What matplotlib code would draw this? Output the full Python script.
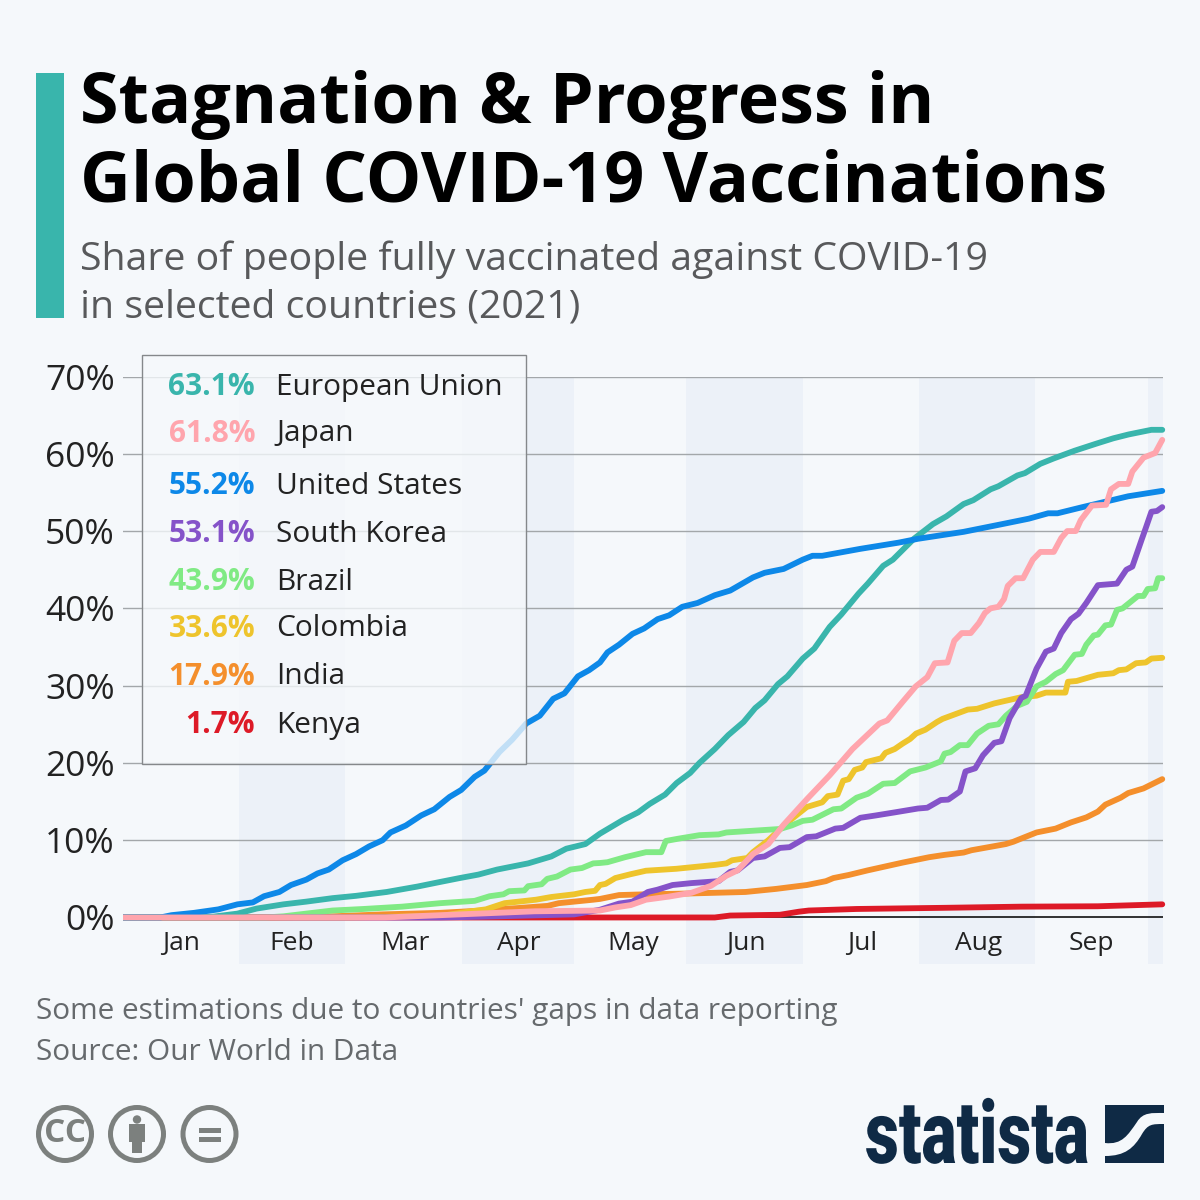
import matplotlib
matplotlib.use('Agg')
import matplotlib.pyplot as plt
import matplotlib.patheffects as pe
from matplotlib.patches import Rectangle, Circle, PathPatch, Polygon
from matplotlib.path import Path
from matplotlib.transforms import Affine2D

plt.rcParams['font.family'] = ['Open Sans', 'DejaVu Sans']

# 날짜 = day of 2021, value = share of people fully vaccinated (%)
us_days = [0, 10, 13, 19, 25.5, 30.6, 34.7, 37.7, 41.8, 44.9, 49, 52, 55, 58.7, 62.3, 65.8, 69.4, 71.5, 75.6, 79.7, 83.2, 87.3, 90.4, 94, 96.6, 100.6, 104, 107.8, 111.4, 115, 118, 121.6, 124.6, 127.5, 129.5, 132.6, 136.2, 139.3, 142.9, 146, 149.5, 153.6, 158.2, 162.3, 168.4, 171.5, 176.6, 181.7, 184.3, 186.9, 197.1, 207.3, 212.5, 224.7, 235, 242.1, 247.3, 249.8, 256.5, 268.7, 277.8]
us_vals = [0, 0, 0.3, 0.6, 1.05, 1.7, 1.95, 2.75, 3.3, 4.2, 4.9, 5.7, 6.2, 7.4, 8.2, 9.2, 10, 11, 11.9, 13.2, 14, 15.6, 16.5, 18.2, 19, 21.4, 23, 25.1, 26.1, 28.3, 29, 31.2, 32, 33, 34.3, 35.3, 36.7, 37.4, 38.6, 39.1, 40.2, 40.7, 41.7, 42.3, 44, 44.6, 45.1, 46.3, 46.8, 46.8, 47.7, 48.5, 49, 49.9, 50.9, 51.6, 52.3, 52.3, 53.1, 54.5, 55.2]

eu_days = [0, 24, 30.6, 35.7, 42.9, 49, 56, 62.3, 70.5, 78.7, 84.8, 90, 95, 100, 108.3, 114.5, 118.5, 123.6, 127.5, 133.6, 137.7, 140.8, 144.9, 148, 151.6, 154.1, 158.2, 161.8, 165.9, 169, 171.5, 175.1, 177.6, 181.7, 184.8, 188.9, 192, 196.6, 199.1, 203.2, 205.8, 211.4, 216.5, 220.1, 224.7, 227.3, 231.9, 234, 239.1, 241.1, 245.2, 248.8, 254.4, 260.1, 264.7, 268.8, 274.9, 277.8]
eu_vals = [0, 0.1, 0.5, 1.15, 1.7, 2.05, 2.5, 2.8, 3.3, 4, 4.6, 5.1, 5.55, 6.2, 7, 7.9, 8.9, 9.5, 10.85, 12.6, 13.6, 14.7, 15.9, 17.4, 18.7, 20, 21.8, 23.6, 25.3, 27.1, 28.1, 30.2, 31.2, 33.5, 34.8, 37.6, 39.2, 41.9, 43.2, 45.5, 46.3, 49, 50.9, 51.9, 53.5, 54, 55.4, 55.8, 57.2, 57.5, 58.7, 59.4, 60.4, 61.3, 62, 62.5, 63.1, 63.1]

japan_days = [0, 70, 90, 110, 127.5, 131.6, 135.7, 139.8, 145.9, 152, 157.2, 161.3, 164.3, 168.4, 172.5, 176.6, 182.8, 188.9, 195, 202.2, 204.3, 208.4, 211.9, 215, 217, 220.4, 222.2, 224.2, 226.6, 228.8, 230.4, 231.9, 234, 235.5, 236.5, 238.6, 240.6, 243.2, 245.2, 248.8, 250.8, 252.4, 254.7, 256, 259, 262.8, 264.1, 266.2, 268.7, 269.8, 272.8, 275.9, 277.8]
japan_vals = [0, 0, 0.4, 0.8, 0.9, 1.3, 1.6, 2.3, 2.7, 3.2, 4.1, 5.4, 6.1, 8.2, 9.5, 12, 15.3, 18.4, 21.8, 25.1, 25.5, 27.9, 29.9, 31.1, 32.9, 33, 35.8, 36.8, 36.8, 38.1, 39.4, 40, 40.2, 41.2, 42.9, 43.9, 43.9, 46.3, 47.3, 47.3, 49.1, 50, 50, 51.4, 53.3, 53.4, 55.4, 56.1, 56.1, 57.7, 59.5, 60.1, 61.8]

korea_days = [0, 85, 96, 120.6, 127.5, 132.6, 136.2, 140.3, 142.9, 146.9, 152, 159.2, 162.3, 164.3, 168.4, 171.5, 175.6, 178.2, 182.8, 185.3, 190.4, 192.5, 197.1, 201.2, 206.3, 212.5, 215, 218.6, 220.6, 223.7, 225.2, 227.8, 229.9, 232.9, 234.8, 237, 240.1, 241.3, 244.2, 246.7, 248.8, 250.8, 253.4, 255.4, 257.5, 260.6, 265.7, 268.2, 269.8, 272.3, 273.4, 274.9, 276.4, 277.8]
korea_vals = [0, 0, 0.1, 0.4, 1, 1.8, 2.05, 3.3, 3.6, 4.2, 4.45, 4.7, 5.9, 6.1, 7.7, 7.9, 9, 9.1, 10.4, 10.5, 11.5, 11.6, 12.9, 13.2, 13.6, 14.1, 14.2, 15.2, 15.25, 16.3, 18.9, 19.3, 21, 22.6, 22.8, 25.8, 28.4, 28.7, 32.2, 34.4, 34.8, 36.8, 38.6, 39.3, 40.7, 43, 43.2, 45, 45.4, 48.9, 50.4, 52.5, 52.6, 53.1]

brazil_days = [0, 38, 42.9, 49, 56, 64.3, 74.6, 84.8, 94, 98, 101.7, 103.2, 107.3, 108.3, 111.9, 113.4, 116, 119.6, 122.7, 125.7, 127.5, 129.5, 134.2, 139.8, 143.9, 145.1, 148.5, 154.1, 159.2, 161.3, 175.6, 178.7, 181.7, 184.3, 189.9, 192, 196.1, 199.1, 203.2, 206.3, 210.4, 214.5, 218.6, 219.6, 221.2, 223.7, 225.8, 228.3, 231.4, 234, 236, 239.1, 241.6, 244.2, 246.7, 249.3, 251.3, 254.4, 256.3, 257.5, 259.5, 260.6, 262.6, 264.1, 265.7, 267.2, 271.3, 272.8, 273.9, 275.9, 276.7, 277.8]
brazil_vals = [0, 0, 0.15, 0.5, 0.9, 1.1, 1.4, 1.85, 2.15, 2.75, 3, 3.4, 3.5, 4.05, 4.3, 5, 5.3, 6.2, 6.4, 7, 7.05, 7.15, 7.8, 8.45, 8.45, 9.9, 10.2, 10.65, 10.75, 11, 11.45, 11.9, 12.5, 12.65, 14, 14.1, 15.5, 16, 17.3, 17.4, 18.9, 19.4, 20.2, 21.2, 21.4, 22.3, 22.3, 23.8, 24.8, 25, 26.1, 27.4, 27.9, 29.9, 30.5, 31.5, 32, 34, 34.1, 35.3, 36.5, 36.6, 37.8, 37.9, 39.8, 40, 41.6, 41.6, 42.5, 42.6, 43.9, 43.9]

colombia_days = [0, 60, 85, 93, 97, 102, 110.4, 114.5, 120.6, 123.6, 126.2, 127.5, 129, 131.6, 135.7, 139.8, 147.9, 158.2, 161.3, 162.8, 166.9, 168.4, 172.5, 177.6, 182.8, 186.9, 188.4, 191, 192.5, 194, 195.6, 197.6, 198.6, 202.7, 203.8, 206.3, 208.4, 210.4, 212, 214.5, 217.6, 219.1, 225.8, 228.3, 232.9, 240.1, 244.2, 246.7, 251.9, 252.6, 254.9, 260.6, 264.7, 266.2, 268.2, 270.8, 273.4, 274.9, 277.8]
colombia_vals = [0, 0, 0.2, 0.8, 1.05, 1.85, 2.3, 2.65, 3, 3.3, 3.45, 4.2, 4.35, 5.1, 5.6, 6.05, 6.3, 6.8, 7, 7.4, 7.7, 8.45, 10, 12.3, 14.3, 14.9, 15.7, 15.9, 17.7, 17.9, 19.1, 19.4, 20.1, 20.6, 21.3, 21.8, 22.5, 23.1, 23.8, 24.3, 25.3, 25.7, 26.9, 27, 27.7, 28.5, 28.7, 29.1, 29.1, 30.5, 30.6, 31.4, 31.6, 32, 32.1, 32.9, 33, 33.5, 33.6]

india_days = [0, 40, 56, 69.4, 84.8, 96, 105, 113.5, 116.5, 120.6, 125.7, 127.5, 132.6, 139.8, 151, 166.4, 174.6, 182.8, 187.9, 189.9, 194, 199.1, 208.4, 215.5, 219.6, 224.7, 226.8, 236, 238, 241.6, 244.2, 249.3, 253.4, 257.5, 260.6, 262.6, 266.7, 268.7, 272.8, 277.8]
india_vals = [0, 0, 0.15, 0.4, 0.6, 0.9, 1.2, 1.5, 1.85, 2.05, 2.3, 2.4, 2.9, 3, 3.1, 3.3, 3.7, 4.2, 4.7, 5.1, 5.5, 6.1, 7.1, 7.8, 8.1, 8.4, 8.7, 9.5, 9.8, 10.5, 11, 11.5, 12.3, 12.95, 13.7, 14.6, 15.5, 16.1, 16.7, 17.9]

kenya_days = [0, 158.2, 162.3, 175.6, 180.7, 183.3, 196.1, 219.6, 240.1, 260.6, 277.8]
kenya_vals = [0, 0, 0.25, 0.35, 0.75, 0.9, 1.1, 1.25, 1.4, 1.45, 1.7]

months = ['Jan', 'Feb', 'Mar', 'Apr', 'May', 'Jun', 'Jul', 'Aug', 'Sep']
month_ticks = [15.5, 45.2, 75.4, 105.9, 136.4, 166.6, 197.6, 228.6, 258.8]
band_starts = [31, 90.6, 150.5, 212.8, 274]
band_ends = [59.3, 120.6, 181.8, 243.8, 278]
y_ticks = [0, 10, 20, 30, 40, 50, 60, 70]

legend_names = ['European Union', 'Japan', 'United States', 'South Korea', 'Brazil', 'Colombia', 'India', 'Kenya']
legend_vals = ['63.1%', '61.8%', '55.2%', '53.1%', '43.9%', '33.6%', '17.9%', '1.7%']
legend_y = [387, 434, 486, 534, 582, 629, 677, 725]

TEAL = '#39b5ac'
PINK = '#ffa5ad'
BLUE = '#0d88e8'
PURPLE = '#8553c9'
GREEN = '#80ea84'
YELLOW = '#eec42c'
ORANGE = '#f48f2c'
RED = '#dd1a27'
legend_colors = [TEAL, PINK, BLUE, PURPLE, GREEN, YELLOW, ORANGE, RED]
BG = '#f5f8fb'
NAVY = '#0f2a45'
ICON = '#7c807e'


# 로고 글자를 가로로 좁히는 path effect (글자는 텍스트로 유지)
class SqueezeX(pe.AbstractPathEffect):
    def __init__(self, x0, sx):
        super().__init__()
        self.x0 = x0
        self.sx = sx

    def draw_path(self, renderer, gc, tpath, affine, rgbFace=None):
        squeezed = affine + Affine2D().translate(-self.x0, 0).scale(self.sx, 1).translate(self.x0, 0)
        renderer.draw_path(gc, tpath, squeezed, rgbFace)


fig = plt.figure(figsize=(12, 12), dpi=100, facecolor=BG)

# 차트 영역: x 123~1163px, y 376.5~964px
ax = fig.add_axes([123 / 1200, 1 - 964 / 1200, 1040 / 1200, 587.5 / 1200], facecolor='none')
ax.set_xlim(0, 278)
ax.set_ylim(-6.02, 70)

for s, e in zip(band_starts, band_ends):
    ax.axvspan(s, e, color='#ecf1f8', lw=0, zorder=0)

for y in y_ticks[1:]:
    ax.axhline(y, color='#a3a7aa', lw=1.0, zorder=1)
ax.axhline(0, color='#111111', lw=1.2, zorder=1)

series = [
    (kenya_days, kenya_vals, RED),
    (india_days, india_vals, ORANGE),
    (colombia_days, colombia_vals, YELLOW),
    (brazil_days, brazil_vals, GREEN),
    (korea_days, korea_vals, PURPLE),
    (eu_days, eu_vals, TEAL),
    (us_days, us_vals, BLUE),
    (japan_days, japan_vals, PINK),
]
# 왼쪽만 잘리고 오른쪽 끝의 둥근 마감은 보이도록 클립 영역을 넓힌다
line_clip = Rectangle((0, -6), 285, 85, transform=ax.transData)
for i, (d, v, c) in enumerate(series):
    line, = ax.plot(d, v, color=c, lw=4.2, solid_joinstyle='round', solid_capstyle='round', zorder=3 + i)
    line.set_clip_path(line_clip)

for side in ax.spines.values():
    side.set_visible(False)
ax.set_yticks(y_ticks)
ax.set_yticklabels([f'{y}%' for y in y_ticks], fontsize=25.5, color='#222222')
ax.tick_params(axis='y', length=0, pad=6)
ax.set_xticks(month_ticks)
ax.set_xticklabels(months, fontsize=19, color='#222222')
ax.tick_params(axis='x', length=0, pad=-24)

# 제목, 범례, 로고는 픽셀 좌표의 오버레이 축에 그린다
top = fig.add_axes([0, 0, 1, 1], facecolor='none', zorder=5)
top.set_xlim(0, 1200)
top.set_ylim(1200, 0)
top.axis('off')

top.add_patch(Rectangle((36, 73), 28, 245, color=TEAL, lw=0))
top.text(80, 105, 'Stagnation & Progress in', fontsize=50.5, fontweight='bold', color='black', va='center')
top.text(80, 183, 'Global COVID-19 Vaccinations', fontsize=50.5, fontweight='bold', color='black', va='center')
top.text(80, 260, 'Share of people fully vaccinated against COVID-19', fontsize=28.25, color='#58595b', va='center')
top.text(80, 307.5, 'in selected countries (2021)', fontsize=28.25, color='#58595b', va='center')

top.add_patch(Rectangle((142, 355), 384, 409, facecolor=BG, alpha=0.78, edgecolor='none'))
top.add_patch(Rectangle((142, 355), 384, 409, facecolor='none', edgecolor='#85888b', lw=1.0))
for name, val, y, c in zip(legend_names, legend_vals, legend_y, legend_colors):
    top.text(255, y, val, fontsize=21.5, fontweight='bold', color=c, ha='right', va='center')
    top.text(276.5, y, name, fontsize=21.5, color='#222222', ha='left', va='center')

top.text(36, 1012, "Some estimations due to countries' gaps in data reporting", fontsize=21.4, color='#666a6d', va='center')
top.text(36, 1053, 'Source: Our World in Data', fontsize=21.4, color='#666a6d', va='center')

# CC 아이콘
for cx in [65, 137, 209.5]:
    top.add_patch(Circle((cx, 1134), 26.5, facecolor='none', edgecolor=ICON, lw=3.6))
top.text(65, 1134, 'CC', fontsize=24, fontweight='bold', color=ICON, ha='center', va='center')
top.add_patch(Circle((137, 1119.5), 4.2, color=ICON, lw=0))
top.add_patch(Polygon([(129, 1124), (145, 1124), (145, 1142), (142, 1142), (142, 1153), (132, 1153), (132, 1142), (129, 1142)], color=ICON, lw=0))
top.add_patch(Rectangle((199, 1128), 22, 5, color=ICON, lw=0))
top.add_patch(Rectangle((199, 1137), 22, 5, color=ICON, lw=0))

# statista 로고
logo = top.text(865, 1163, 'statista', fontsize=63, fontweight=900, color=NAVY, ha='left', va='baseline',
                family=['Roboto', 'DejaVu Sans'])
logo.set_path_effects([SqueezeX(865, 0.754)])
top.add_patch(Rectangle((1105, 1105), 59, 58, color=NAVY, lw=0))
swoosh = Path([(1105, 1143), (1122, 1145), (1128, 1135), (1137, 1122), (1143, 1112), (1152, 1113), (1164, 1113),
               (1164, 1124), (1152, 1124), (1148, 1124), (1142, 1134), (1134, 1148), (1125, 1156), (1105, 1156), (1105, 1143)],
              [Path.MOVETO, Path.CURVE4, Path.CURVE4, Path.CURVE4, Path.CURVE4, Path.CURVE4, Path.CURVE4,
               Path.LINETO, Path.CURVE4, Path.CURVE4, Path.CURVE4, Path.CURVE4, Path.CURVE4, Path.CURVE4, Path.CLOSEPOLY])
top.add_patch(PathPatch(swoosh, facecolor=BG, edgecolor='none'))

fig.savefig('out.png', dpi=100, facecolor=BG)
